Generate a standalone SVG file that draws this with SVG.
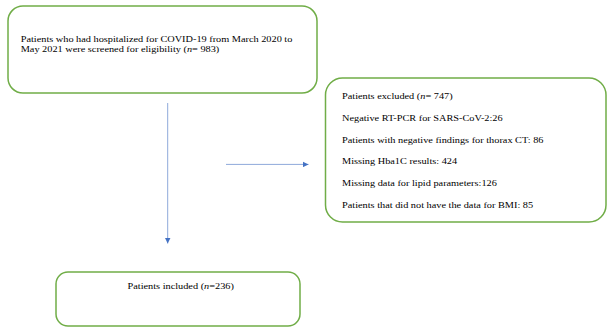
<svg xmlns="http://www.w3.org/2000/svg" width="608" height="327" viewBox="0 0 608 327">
<defs>
<style>
.box{fill:#fff;stroke:#70AD47;stroke-width:1.5}
.t{font-family:"Liberation Serif","Times New Roman",serif;font-size:9.2px;fill:#000}
.c{stroke:#8EA9DB;stroke-width:1;fill:none}
</style>
<marker id="ah" viewBox="0 0 10 10" refX="10" refY="5" markerWidth="6" markerHeight="6" markerUnits="userSpaceOnUse" orient="auto">
<path d="M0,0 L10,5 L0,10 Z" fill="#4472C4"/>
</marker>
</defs>
<rect width="608" height="327" fill="#fff"/>
<g id="screened">
<rect class="box" x="8" y="6" width="309" height="87" rx="15"/>
<text class="t" transform="translate(20.7,42) scale(1.12,1)">Patients who had hospitalized for COVID-19 from March 2020 to</text>
<text class="t" transform="translate(20.7,51.5) scale(1.12,1)">May 2021 were screened for eligibility (<tspan font-style="italic">n</tspan>= 983)</text>
</g>
<g id="excluded">
<rect class="box" x="325.5" y="78" width="280.5" height="144" rx="17"/>
<text class="t" transform="translate(342,98.5) scale(1.12,1)">Patients excluded (<tspan font-style="italic">n</tspan>= 747)</text>
<text class="t" transform="translate(342,120.5) scale(1.12,1)">Negative RT-PCR for SARS-CoV-2:26</text>
<text class="t" transform="translate(342,142.5) scale(1.12,1)">Patients with negative findings for thorax CT: 86</text>
<text class="t" transform="translate(342,164) scale(1.12,1)">Missing Hba1C results: 424</text>
<text class="t" transform="translate(342,186) scale(1.12,1)">Missing data for lipid parameters:126</text>
<text class="t" transform="translate(342,207.5) scale(1.12,1)">Patients that did not have the data for BMI: 85</text>
</g>
<g id="included">
<rect class="box" x="56" y="272" width="244" height="54" rx="12"/>
<text class="t" transform="translate(180.7,288.5) scale(1.12,1)" text-anchor="middle">Patients included (<tspan font-style="italic">n</tspan>=236)</text>
</g>
<g id="connectors">
<line class="c" x1="167.7" y1="103" x2="167.7" y2="243.5" marker-end="url(#ah)"/>
<line class="c" x1="226" y1="164.4" x2="308.5" y2="164.4" marker-end="url(#ah)"/>
</g>
</svg>
